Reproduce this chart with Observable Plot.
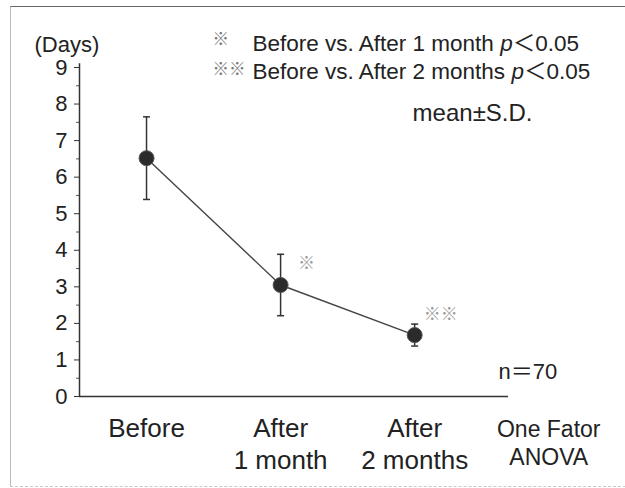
<!DOCTYPE html>
<html><head><meta charset="utf-8">
<script src="https://cdn.jsdelivr.net/npm/d3@7"></script>
<script src="https://cdn.jsdelivr.net/npm/@observablehq/plot@0.6"></script>
<style>
html,body{margin:0;padding:0;background:#fff;}
#wrap{position:relative;width:625px;height:488px;overflow:hidden;}
#frame{position:absolute;left:10px;top:6px;width:620px;height:479px;border-top:1.5px solid #666;border-left:1px solid #bbb;border-bottom:1px dashed #c8c8c8;pointer-events:none;}
#wrap svg{position:absolute;left:0;top:0;}
</style></head><body><div id="wrap"><div id="frame"></div></div>
<script>
// ---- data ----
const categories = ["Before", "After\n1 month", "After\n2 months"];
const extraLabel = "One Fator\nANOVA";
const means = [6.52, 3.05, 1.68];
const sds = [1.13, 0.84, 0.30];
const sigMarks = ["", "※", "※※"];
const yTicks = [0, 1, 2, 3, 4, 5, 6, 7, 8, 9];
const yMinorTicks = [0.5, 1.5, 2.5, 3.5, 4.5, 5.5, 6.5, 7.5, 8.5];
const yLabel = "(Days)";
const legendMarks = ["※", "※※"];
const legendLabels = ["Before vs. After 1 month p＜0.05", "Before vs. After 2 months p＜0.05"];
const noteLabel = "mean±S.D.";
const nLabel = "n＝70";

const data = categories.map((c, i) => ({i, c, mean: means[i], sd: sds[i], sig: sigMarks[i]}));
const xDomain = [-0.5, 2.7];

const capSymbol = {draw(ctx, size) { const w = Math.sqrt(size / Math.PI); ctx.moveTo(-w, 0); ctx.lineTo(w, 0); }};
const cjk = '"Noto Sans CJK JP", sans-serif';

const chart = Plot.plot({
  width: 625, height: 488,
  marginLeft: 79, marginRight: 117, marginTop: 67, marginBottom: 92,
  style: {fontFamily: '"Liberation Sans", Arial, "Noto Sans CJK JP", sans-serif', fontSize: "22px", color: "#222", background: "#fff"},
  x: {type: "linear", domain: xDomain, axis: null},
  y: {domain: [0, 9], axis: null},
  marks: [
    Plot.axisY(yMinorTicks, {tickSize: 3, tickFormat: () => "", label: null, stroke: "#555"}),
    Plot.axisY(yTicks, {tickSize: 5, tickPadding: 7, fontSize: 22, label: null, stroke: "#333", fill: "#222"}),
    Plot.axisX([0, 1, 2], {tickSize: 0, tickPadding: 17, tickFormat: i => categories[i], fontSize: 26, lineHeight: 1.25, label: null, fill: "#222"}),
    Plot.axisX([3], {tickSize: 0, tickPadding: 21, tickFormat: () => extraLabel, fontSize: 23, lineHeight: 1.22, label: null, fill: "#222"}),
    Plot.ruleY([0], {stroke: "#333", strokeWidth: 1.5}),
    Plot.ruleX([xDomain[0]], {y1: 0, y2: 9.1, stroke: "#333", strokeWidth: 1.5}),
    Plot.line(data, {x: "i", y: "mean", stroke: "#444", strokeWidth: 1.4}),
    Plot.ruleX(data, {x: "i", y1: d => d.mean - d.sd, y2: d => d.mean + d.sd, stroke: "#333", strokeWidth: 1.5}),
    Plot.dot(data, {x: "i", y: d => d.mean + d.sd, symbol: capSymbol, r: 3.5, stroke: "#333", strokeWidth: 1.5}),
    Plot.dot(data, {x: "i", y: d => d.mean - d.sd, symbol: capSymbol, r: 3.5, stroke: "#333", strokeWidth: 1.5}),
    Plot.dot(data, {x: "i", y: "mean", r: 7.5, fill: "#2b2b2b", stroke: "#555", strokeWidth: 1}),
    Plot.text(data.filter(d => d.sig), {x: "i", y: "mean", text: "sig", dx: 26, dy: -21, fill: "#999", fontSize: 17, fontFamily: cjk}),
    ...legendMarks.map((m, i) => Plot.text([m], {frameAnchor: "top-left", text: d => d, dx: 133, dy: -23 + i * 30, textAnchor: "start", lineAnchor: "bottom", fill: "#777", fontSize: 16.5, fontFamily: cjk})),
    ...legendLabels.map((t, i) => Plot.text([t], {frameAnchor: "top-left", text: d => d, dx: 173, dy: -17 + i * 28.5, textAnchor: "start", lineAnchor: "bottom", fontSize: 22.5, fill: "#222"})),
    Plot.text([noteLabel], {frameAnchor: "top-left", text: d => d, dx: 453, dy: 53, textAnchor: "end", lineAnchor: "bottom", fontSize: 24, fill: "#222"}),
    Plot.text([yLabel], {frameAnchor: "top-left", text: d => d, dx: -45, dy: -16, textAnchor: "start", lineAnchor: "bottom", fontSize: 22, fill: "#222"}),
    Plot.text([nLabel], {frameAnchor: "bottom-left", text: d => d, dx: 419, dy: -18, textAnchor: "start", lineAnchor: "bottom", fontSize: 22, fill: "#222"})
  ]
});

// italic "p" in legend lines
const ns = "http://www.w3.org/2000/svg";
chart.querySelectorAll("text, tspan").forEach(el => {
  if (el.children.length === 0 && el.textContent.includes("p＜")) {
    const s = el.textContent, k = s.indexOf("p＜");
    el.textContent = "";
    const a = document.createElementNS(ns, "tspan"); a.textContent = s.slice(0, k);
    const b = document.createElementNS(ns, "tspan"); b.textContent = "p"; b.setAttribute("font-style", "italic");
    const c = document.createElementNS(ns, "tspan"); c.textContent = s.slice(k + 1);
    el.append(a, b, c);
  }
});
document.getElementById("wrap").prepend(chart);
</script>
</body></html>
